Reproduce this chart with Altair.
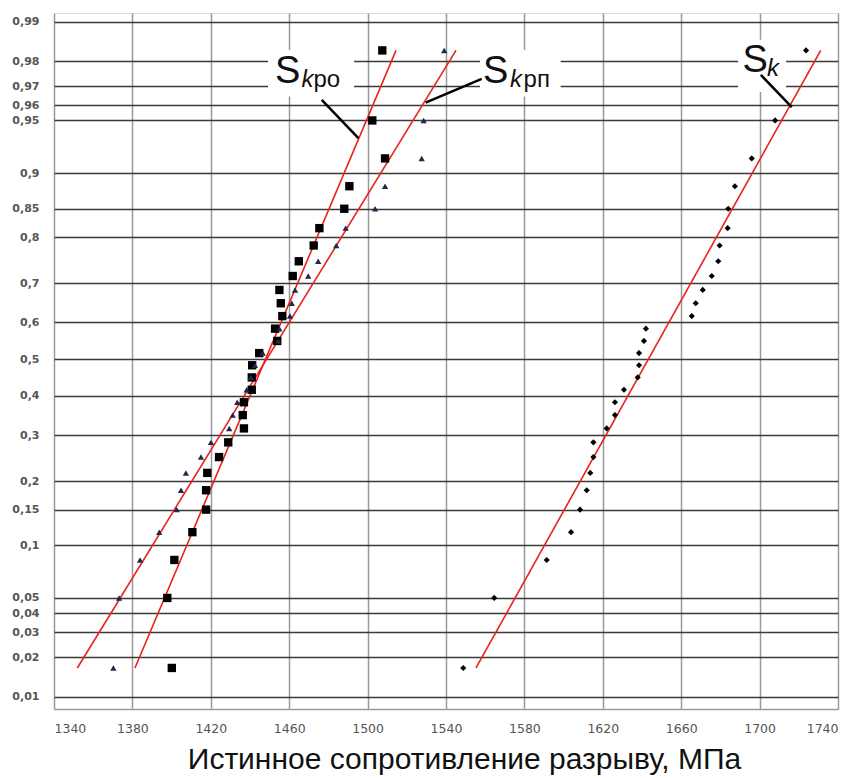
import altair as alt
import pandas as pd
from statistics import NormalDist

# plotting positions (probability of each ranked specimen)
prob = [0.0167, 0.05, 0.0833, 0.1167, 0.15, 0.1833, 0.2167, 0.25, 0.2833, 0.3167,
        0.35, 0.3833, 0.4167, 0.45, 0.4833, 0.5167, 0.55, 0.5833, 0.6167, 0.65,
        0.6833, 0.7167, 0.75, 0.7833, 0.8167, 0.85, 0.8833, 0.9167, 0.95, 0.9833]

# S_kро (squares)
s_kro = [1400.1, 1397.8, 1401.4, 1410.6, 1417.6, 1417.6, 1418.2, 1424.2, 1428.9, 1436.9,
         1436.3, 1436.9, 1440.9, 1440.9, 1441.1, 1444.7, 1453.9, 1452.8, 1456.5, 1455.7,
         1455.0, 1461.8, 1464.9, 1472.5, 1475.4, 1488.1, 1490.7, 1508.9, 1502.4, 1507.5]
# S_kрп (triangles)
s_krp = [1370.3, 1373.2, 1383.9, 1393.7, 1402.6, 1404.8, 1407.3, 1415.0, 1420.1, 1429.4,
         1431.2, 1433.5, 1438.3, 1440.5, 1442.5, 1446.5, 1454.4, 1455.0, 1460.4, 1461.3,
         1463.0, 1469.7, 1474.8, 1484.0, 1488.8, 1503.8, 1508.9, 1527.6, 1528.6, 1539.1]
# S_k (diamonds)
s_k = [1548.8, 1564.6, 1591.4, 1603.8, 1608.4, 1611.8, 1613.6, 1615.2, 1615.2, 1622.0,
       1626.2, 1626.2, 1630.8, 1637.8, 1638.5, 1638.5, 1641.0, 1642.0, 1665.4, 1667.4,
       1671.0, 1675.6, 1678.9, 1679.6, 1683.7, 1684.0, 1687.4, 1696.0, 1707.9, 1723.7]

# fitted normal lines (end points)
line_p = [0.0167, 0.9833]
line_kro = [1381.3, 1514.5]
line_krp = [1351.9, 1545.1]
line_k = [1555.3, 1731.2]

x_ticks = [1340, 1380, 1420, 1460, 1500, 1540, 1580, 1620, 1660, 1700, 1740]
y_ticks = [0.01, 0.02, 0.03, 0.04, 0.05, 0.1, 0.15, 0.2, 0.3, 0.4, 0.5,
           0.6, 0.7, 0.8, 0.85, 0.9, 0.95, 0.96, 0.97, 0.98, 0.99]
x_title = "Истинное сопротивление разрыву, МПа"

nd = NormalDist()
y_tick_z = [nd.inv_cdf(p) for p in y_ticks]

pts = pd.DataFrame({
    "x": s_kro + s_krp + s_k,
    "p": prob * 3,
    "series": ["kro"] * 30 + ["krp"] * 30 + ["k"] * 30,
})
lines = pd.DataFrame({
    "x": line_kro + line_krp + line_k,
    "p": line_p * 3,
    "series": ["kro"] * 2 + ["krp"] * 2 + ["k"] * 2,
})

# annotation geometry (label boxes, leader lines, label texts) in data units (MPa, z)
boxes = pd.DataFrame({
    "x": [1449.2, 1557.3, 1689.0], "x2": [1493.1, 1598.5, 1713.5],
    "z": [2.13, 2.13, 2.20], "z2": [1.81, 1.81, 1.84],
})
leaders = pd.DataFrame({
    "x": [1476.6, 1495.3, 1558.2, 1529.6, 1700.6, 1716.4],
    "z": [1.7865, 1.5227, 1.9311, 1.7679, 1.9587, 1.7362],
    "g": ["a", "a", "b", "b", "c", "c"],
})
big_s = pd.DataFrame({"x": [1452.8, 1558.9, 1691.3], "z": [1.9036, 1.9036, 1.9793], "t": ["S", "S", "S"]})
sub_k = pd.DataFrame({"x": [1466.3, 1572.7, 1703.8], "z": [1.876, 1.876, 1.9518], "t": ["k", "k", "k"]})
sub_r = pd.DataFrame({"x": [1472.4, 1579.6], "z": [1.876, 1.876], "t": ["ро", "рп"]})

xscale = alt.Scale(domain=[1340, 1740], nice=False, zero=False)
yscale = alt.Scale(domain=[-2.41, 2.385], nice=False, zero=False)

X = alt.X("x:Q", scale=xscale, axis=alt.Axis(
    values=x_ticks, format="d", grid=True, gridColor="#9a9a9a", gridWidth=1.5,
    ticks=False, domain=True, domainColor="#9a9a9a", domainWidth=1.5,
    labelFont="DejaVu Sans", labelFontSize=12.5, labelColor="#555",
    labelPadding=13, title=x_title, titleFont="Liberation Sans", titleFontSize=30,
    titleFontWeight="normal", titleColor="#111", titleX=410, titleY=59,
    titleAlign="center", titleBaseline="alphabetic"))
Y = alt.Y("z:Q", scale=yscale, axis=alt.Axis(
    values=y_tick_z, grid=True, gridColor="#3a3a3a", gridWidth=1.5,
    ticks=False, domain=False, labelPadding=15,
    labelExpr="replace(format(cumulativeNormal(datum.value), '.2~f'), '.', ',')",
    labelFont="DejaVu Sans", labelFontSize=11, labelFontWeight="bold", labelColor="#555",
    title=None))

zcalc = {"z": "quantileNormal(datum.p)"}

line_layer = alt.Chart(lines).transform_calculate(**zcalc).mark_line(
    color="#e8221c", strokeWidth=1.6).encode(x=X, y=Y, detail="series:N")

sq = alt.Chart(pts).transform_filter("datum.series == 'kro'").transform_calculate(**zcalc).mark_point(
    shape="square", filled=True, size=70, color="black", opacity=1).encode(x=X, y=Y)
tri = alt.Chart(pts).transform_filter("datum.series == 'krp'").transform_calculate(**zcalc).mark_point(
    shape="triangle-up", filled=True, size=40, color="#1c2a48", opacity=1).encode(x=X, y=Y)
dia = alt.Chart(pts).transform_filter("datum.series == 'k'").transform_calculate(**zcalc).mark_point(
    shape="diamond", filled=True, size=38, color="black", opacity=1).encode(x=X, y=Y)

box_layer = alt.Chart(boxes).mark_rect(fill="white", stroke=None).encode(
    x=X, x2="x2:Q", y=Y, y2="z2:Q")
leader_layer = alt.Chart(leaders).mark_line(color="black", strokeWidth=2.5).encode(
    x=X, y=Y, detail="g:N")
s_layer = alt.Chart(big_s).mark_text(align="left", baseline="alphabetic", fontSize=38,
                                     font="Liberation Sans", color="#111").encode(x=X, y=Y, text="t:N")
k_layer = alt.Chart(sub_k).mark_text(align="left", baseline="alphabetic", fontSize=24,
                                     font="Liberation Sans", fontStyle="italic", color="#111").encode(x=X, y=Y, text="t:N")
r_layer = alt.Chart(sub_r).mark_text(align="left", baseline="alphabetic", fontSize=24,
                                     font="Liberation Sans", color="#111").encode(x=X, y=Y, text="t:N")

chart = alt.layer(box_layer, line_layer, sq, tri, dia, leader_layer, s_layer, k_layer, r_layer).properties(
    width=784, height=696,
    autosize=alt.AutoSizeParams(type="none"),
    padding={"left": 46, "top": 5, "right": 11, "bottom": 69},
).configure_view(stroke=None).configure(background="white")

chart.save("out.html", embed_options={"renderer": "svg", "actions": False})
